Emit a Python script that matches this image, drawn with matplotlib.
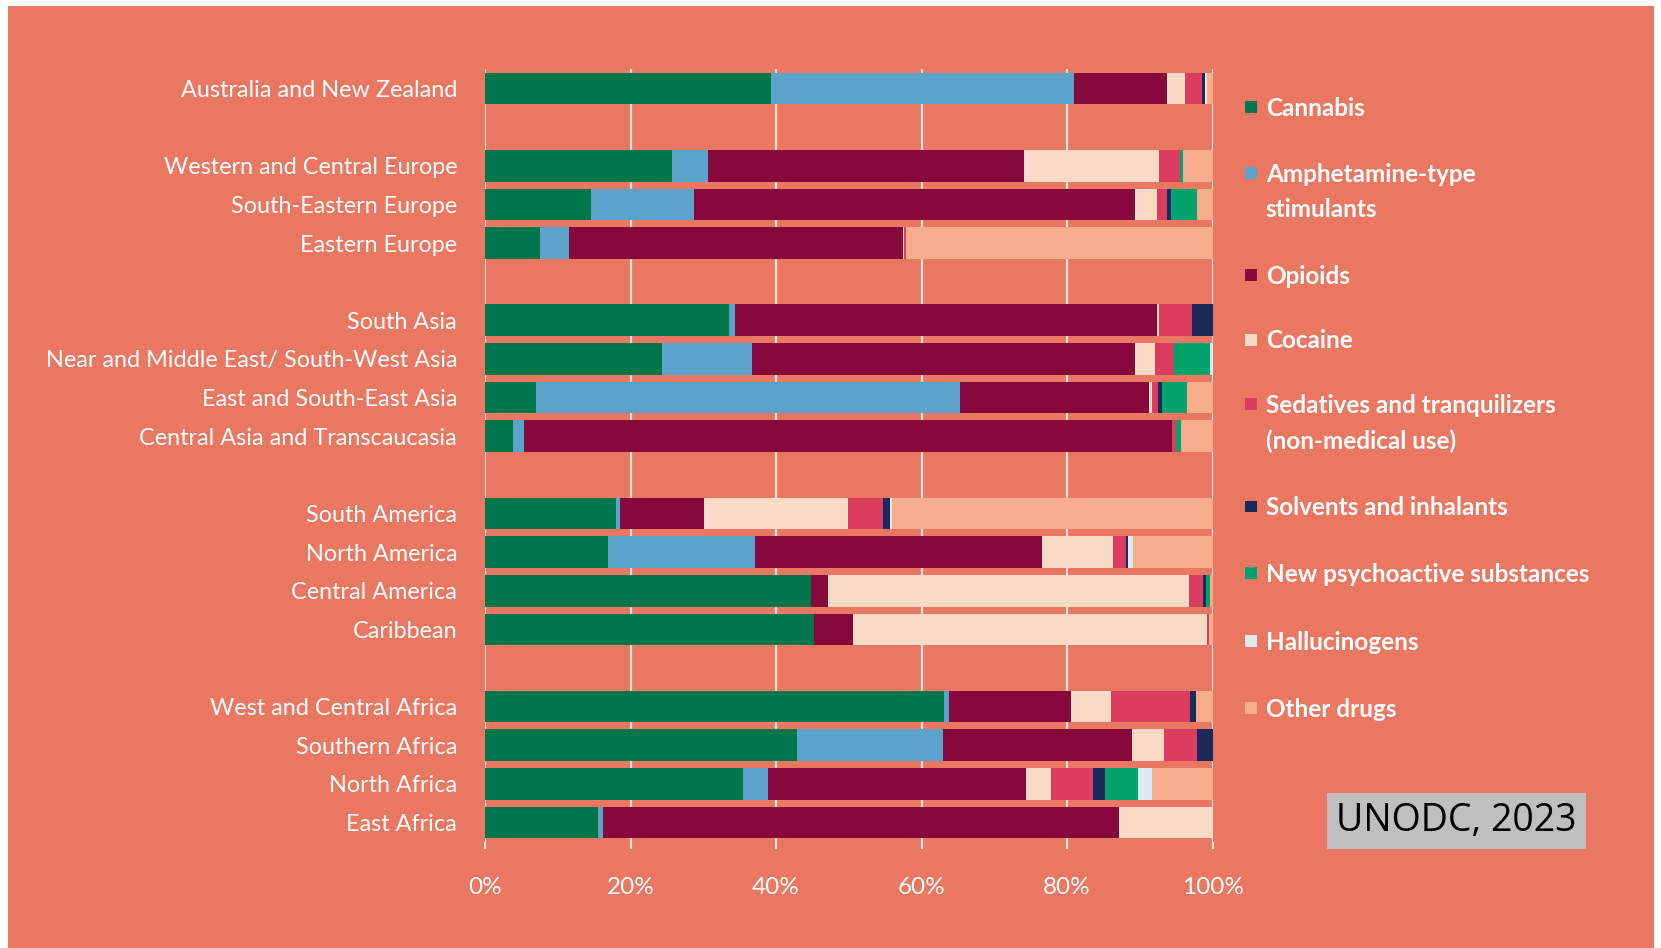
import numpy as np
import matplotlib.pyplot as plt
from matplotlib.patches import Rectangle

# regions, top to bottom (None = gap between groups)
regions = ['Australia and New Zealand', None,
           'Western and Central Europe', 'South-Eastern Europe', 'Eastern Europe', None,
           'South Asia', 'Near and Middle East/ South-West Asia', 'East and South-East Asia',
           'Central Asia and Transcaucasia', None,
           'South America', 'North America', 'Central America', 'Caribbean', None,
           'West and Central Africa', 'Southern Africa', 'North Africa', 'East Africa']

drugs = ['Cannabis', 'Amphetamine-type\nstimulants', 'Opioids', 'Cocaine',
         'Sedatives and tranquilizers\n(non-medical use)', 'Solvents and inhalants',
         'New psychoactive substances', 'Hallucinogens', 'Other drugs']

colors = ['#00774A', '#5BA3CA', '#870A3C', '#F7DAC5', '#DB3D60',
          '#1B2A5A', '#00A36C', '#DCEAF2', '#F6AD8C']

# share of people in treatment by primary drug (%), per region in the order above
cannabis      = [39.3, 25.7, 14.6, 7.6, 33.5, 24.3, 7.0, 3.8, 18.0, 16.9, 44.8, 45.2, 63.1, 42.9, 35.5, 15.5]
ats           = [41.7, 5.0, 14.1, 4.0, 0.8, 12.4, 58.3, 1.5, 0.6, 20.2, 0.0, 0.0, 0.7, 20.1, 3.4, 0.7]
opioids       = [12.8, 43.4, 60.7, 45.8, 58.1, 52.7, 26.0, 89.1, 11.5, 39.4, 2.4, 5.4, 16.8, 25.9, 35.5, 70.9]
cocaine       = [2.4, 18.5, 3.0, 0.2, 0.3, 2.7, 0.4, 0.0, 19.8, 9.8, 49.6, 48.6, 5.5, 4.4, 3.4, 12.9]
sedatives     = [2.4, 2.9, 1.4, 0.2, 4.5, 2.6, 0.8, 0.6, 4.8, 1.8, 1.9, 0.3, 10.8, 4.5, 5.8, 0.0]
solvents      = [0.3, 0.0, 0.5, 0.0, 3.0, 0.0, 0.5, 0.0, 0.9, 0.3, 0.4, 0.0, 0.8, 2.2, 1.6, 0.0]
nps           = [0.0, 0.5, 3.5, 0.1, 0.0, 5.0, 3.5, 0.6, 0.0, 0.0, 0.5, 0.0, 0.0, 0.0, 4.6, 0.0]
hallucinogens = [0.4, 0.0, 0.0, 0.0, 0.0, 0.3, 0.0, 0.0, 0.4, 0.6, 0.0, 0.0, 0.0, 0.0, 1.9, 0.0]
other         = [0.7, 4.0, 2.2, 42.1, 0.1, 0.0, 3.5, 4.4, 44.0, 11.0, 0.4, 0.5, 2.3, 0.0, 8.3, 0.0]

series = [cannabis, ats, opioids, cocaine, sedatives, solvents, nps, hallucinogens, other]

bg = '#E97761'
plt.rcParams['font.family'] = ['Lato', 'DejaVu Sans']

fig = plt.figure(figsize=(16.61, 9.48), dpi=100)
fig.patch.set_facecolor('white')
fig.patches.append(Rectangle((0.005, 0), 0.991, 0.994, transform=fig.transFigure,
                             facecolor=bg, edgecolor='none', zorder=-10))

ax = fig.add_axes([0.292, 0.112, 0.438, 0.815])
ax.set_facecolor(bg)

# y positions of real rows
ypos = [i for i, r in enumerate(regions) if r is not None]
labels = [r for r in regions if r is not None]

left = np.zeros(len(ypos))
for vals, col in zip(series, colors):
    vals = np.array(vals)
    ax.barh(ypos, vals, left=left, height=0.82, color=col, edgecolor='none', zorder=3)
    left += vals

ax.set_xlim(0, 100)
ax.set_ylim(len(regions) - 0.5, -0.5)
ax.set_yticks(ypos)
ax.set_yticklabels(labels, fontsize=16.8, color='white')
ax.set_xticks(np.arange(0, 101, 20))
ax.set_xticklabels([f'{v}%' for v in range(0, 101, 20)], fontsize=17.5, color='white')
ax.tick_params(axis='y', length=0, pad=20)
ax.tick_params(axis='x', length=5, width=1.5, color='#F7E3DA', pad=20)
ax.grid(axis='x', color='#F7E3DA', linewidth=1.6, zorder=0)
for s in ax.spines.values():
    s.set_visible(False)

# legend drawn by hand to match the spaced layout
leg_y = [0.887, 0.818, 0.710, 0.642, 0.574, 0.466, 0.396, 0.324, 0.253]
for name, col, y in zip(drugs, colors, leg_y):
    fig.patches.append(Rectangle((0.7495, y - 0.0065), 0.0072, 0.0125, transform=fig.transFigure,
                                 facecolor=col, edgecolor='none'))
    fig.text(0.762, y + 0.0105, name, fontsize=17.5, fontweight='bold', color='white',
             va='top', ha='left', linespacing=1.65)

# source box
fig.text(0.877, 0.134, 'UNODC, 2023', fontsize=27, color='black', ha='center', va='center',
         family=['Open Sans', 'DejaVu Sans'],
         bbox=dict(facecolor='#BFBFBF', edgecolor='none', pad=6.5))

plt.savefig('out.png', dpi=100, facecolor=fig.get_facecolor())
plt.close()
